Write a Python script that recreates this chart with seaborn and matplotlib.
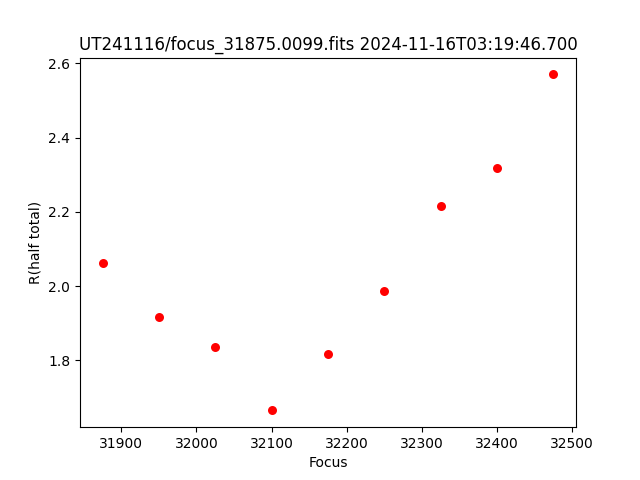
import matplotlib
matplotlib.use("Agg")
import matplotlib.pyplot as plt
import seaborn as sns
import pandas as pd

# focus positions and measured half-total radius
focus = [31875, 31950, 32025, 32100, 32175, 32250, 32325, 32400, 32475]
r_half = [2.061, 1.916, 1.835, 1.665, 1.816, 1.986, 2.215, 2.317, 2.570]
title = "UT241116/focus_31875.0099.fits 2024-11-16T03:19:46.700"

df = pd.DataFrame({"Focus": focus, "R(half total)": r_half})

fig, ax = plt.subplots(figsize=(6.4, 4.8), dpi=100)
sns.scatterplot(data=df, x="Focus", y="R(half total)", color="red",
                s=42, linewidth=0, ax=ax)
ax.set_title(title)
fig.savefig("out.png")
